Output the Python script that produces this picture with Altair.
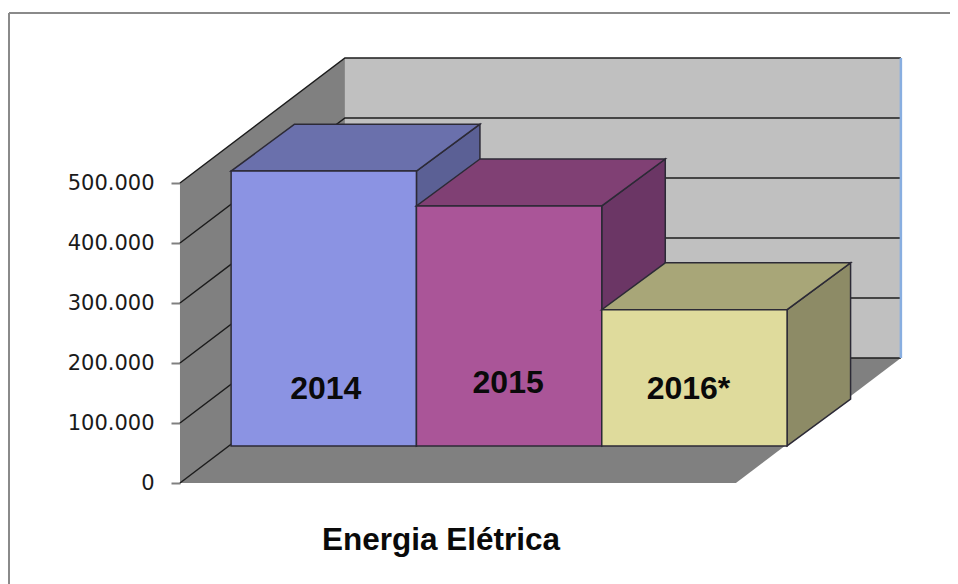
import altair as alt
import pandas as pd

# chart values
years = ["2014", "2015", "2016*"]
energy = [458000, 400000, 227000]
ticks = [0, 100000, 200000, 300000, 400000, 500000]
label_heights = [95000, 105000, 95000]
label_shift = [0.011, -0.005, -0.032]
front_colors = ["#8b93e3", "#aa5598", "#dfdb9c"]
top_colors = ["#6a70ac", "#804074", "#a8a678"]
side_colors = ["#5b6095", "#6b3665", "#8d8b66"]

# oblique projection: how far one full unit of depth shifts a point
DEPTH_X = 0.89      # in category widths
DEPTH_Y = 208333    # in axis units
FRONT_X, BACK_X = 0.31, 0.695
FRONT_Y, BACK_Y = 0.297, 0.672
N = len(years)

W, H = 942, 576
X_SCALE = alt.Scale(domain=[-0.928, 4.155], nice=False, zero=False)
Y_SCALE = alt.Scale(domain=[-168333, 791667], nice=False, zero=False)

AXIS = alt.Axis(values=ticks, domain=False, grid=False, offset=-172, tickSize=9,
                tickColor="#808080", tickWidth=2, labelPadding=17, labelFont="DejaVu Sans",
                labelFontSize=21, labelColor="#1a1a1a", title=None,
                labelExpr="replace(format(datum.value, ','), /,/g, '.')")


def X(field="x"):
    return alt.X(f"{field}:Q", scale=X_SCALE, axis=None)


def Y(field="y"):
    return alt.Y(f"{field}:Q", scale=Y_SCALE, axis=AXIS, stack=None)


def px(cat, depth):
    return cat + depth * DEPTH_X


def py(value, depth):
    return value + depth * DEPTH_Y


def upright(points, fill, stroke=None):
    """Face whose two vertical edges are given as (x, low, high)."""
    df = pd.DataFrame(points, columns=["x", "y", "y2"])
    kw = {"stroke": stroke, "strokeWidth": 1.5} if stroke else {"strokeWidth": 0}
    return alt.Chart(df).mark_area(color=fill, opacity=1, orient="vertical", **kw).encode(
        x=X(), y=Y(), y2=alt.Y2("y2:Q"))


def flat(points, fill, stroke=None):
    """Face whose two horizontal edges are given as (y, left, right)."""
    df = pd.DataFrame(points, columns=["y", "x", "x2"])
    kw = {"stroke": stroke, "strokeWidth": 1.5} if stroke else {"strokeWidth": 0}
    return alt.Chart(df).mark_area(color=fill, opacity=1, orient="horizontal", **kw).encode(
        y=Y(), x=X(), x2=alt.X2("x2:Q"))


top = max(ticks)
layers = []

# left wall, back wall and floor
layers.append(upright([(px(0, 0), py(0, 0), py(top, 0)), (px(0, 1), py(0, 1), py(top, 1))], "#808080"))
layers.append(upright([(px(0, 1), py(0, 1), py(top, 1)), (px(N, 1), py(0, 1), py(top, 1))], "#c0c0c0"))
layers.append(flat([(py(0, 0), px(0, 0), px(N, 0)), (py(0, 1), px(0, 1), px(N, 1))], "#808080"))

# gridlines run across the left wall and the back wall
grid_rows = []
for v in ticks:
    grid_rows += [dict(v=v, i=0, x=px(0, 0), y=py(v, 0)),
                  dict(v=v, i=1, x=px(0, 1), y=py(v, 1)),
                  dict(v=v, i=2, x=px(N, 1), y=py(v, 1))]
layers.append(alt.Chart(pd.DataFrame(grid_rows)).mark_line(color="#1c1c1c", strokeWidth=1.5).encode(
    x=X(), y=Y(), detail="v:N", order="i:Q"))

# right edge of the back wall
edge = pd.DataFrame([dict(x=px(N, 1), y=py(0, 1), y2=py(top, 1))])
layers.append(alt.Chart(edge).mark_rule(color="#88aee0", strokeWidth=2.5).encode(
    x=X(), y=Y(), y2=alt.Y2("y2:Q")))

# boxes, painted left to right
EDGE = "#2c2a36"
for i, v in enumerate(energy):
    l, r = i, i + 1
    layers.append(upright([(px(r, FRONT_X), py(0, FRONT_Y), py(v, FRONT_Y)),
                           (px(r, BACK_X), py(0, BACK_Y), py(v, BACK_Y))], side_colors[i], EDGE))
    layers.append(flat([(py(v, FRONT_Y), px(l, FRONT_X), px(r, FRONT_X)),
                        (py(v, BACK_Y), px(l, BACK_X), px(r, BACK_X))], top_colors[i], EDGE))
    layers.append(upright([(px(l, FRONT_X), py(0, FRONT_Y), py(v, FRONT_Y)),
                           (px(r, FRONT_X), py(0, FRONT_Y), py(v, FRONT_Y))], front_colors[i], EDGE))

# year labels on the front faces
label_df = pd.DataFrame({
    "x": [px(i + 0.5 + s, FRONT_X) for i, s in enumerate(label_shift)],
    "y": [py(v, FRONT_Y) for v in label_heights],
    "t": years,
})
layers.append(alt.Chart(label_df).mark_text(font="Liberation Sans", fontWeight="bold", fontSize=32,
                                            color="#0a0a0a", align="center", baseline="middle").encode(
    x=X(), y=Y(), text="t:N"))

# outer frame, open on the right and at the bottom
layers.append(alt.Chart(pd.DataFrame({"a": [0]})).mark_rule(color="#8a8a8a", strokeWidth=2).encode(
    x=alt.value(1), y=alt.value(5), y2=alt.value(H)))
layers.append(alt.Chart(pd.DataFrame({"a": [0]})).mark_rule(color="#8a8a8a", strokeWidth=2).encode(
    y=alt.value(5), x=alt.value(1), x2=alt.value(W)))

chart = alt.layer(*layers).properties(
    width=W, height=H, padding=0,
    autosize=alt.AutoSizeParams(type="none"),
    background="white",
    title=alt.TitleParams("Energia Elétrica", orient="bottom", anchor="middle", font="Liberation Sans",
                          fontWeight="bold", fontSize=31.5, color="#0a0a0a", offset=0,
                          dx=-38, dy=-60),
).configure_view(stroke=None)

chart.save("out.html", embed_options={"renderer": "svg", "actions": False})
